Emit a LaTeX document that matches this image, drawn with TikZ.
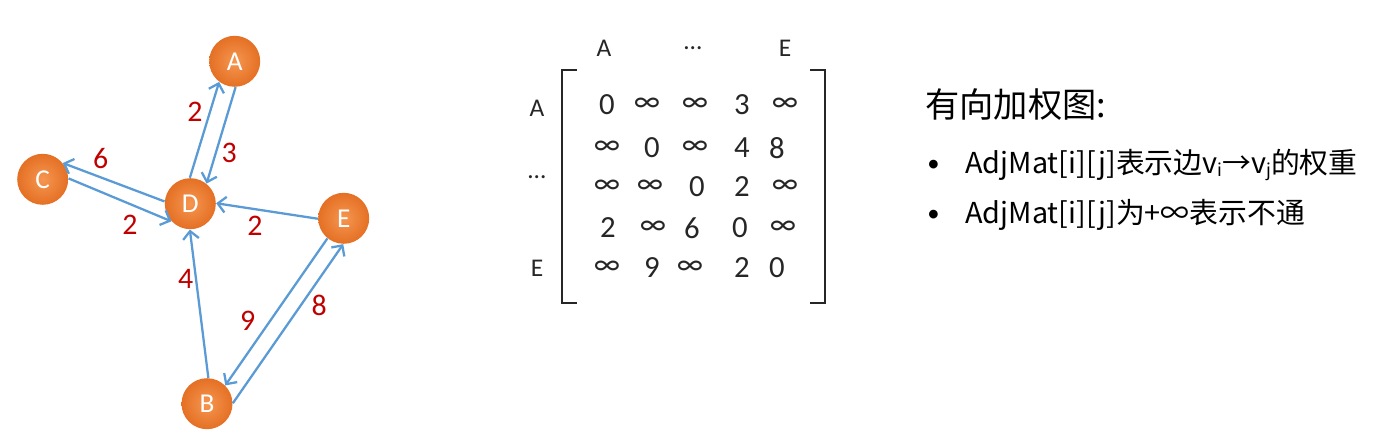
\documentclass[tikz,border=0pt]{standalone}
\usepackage{fontspec}
\setmainfont{Carlito}
\newfontfamily\cjk{Noto Sans CJK SC}
\usetikzlibrary{arrows.meta}
\definecolor{edgeblue}{RGB}{91,155,213}
\definecolor{orL}{RGB}{246,150,80}
\definecolor{orD}{RGB}{228,112,36}
\definecolor{wred}{RGB}{192,0,0}
\definecolor{ink}{RGB}{38,38,38}
\begin{document}
\begin{tikzpicture}[x=0.02cm,y=-0.02cm,
  vtx/.style={circle, minimum size=1.02cm, inner sep=0pt, shade, inner color=orL, outer color=orD, text=white, font=\fontsize{15.5}{15.5}\selectfont},
  arc/.style={draw=edgeblue, line width=1.3pt, -{Straight Barb[length=4.5pt,width=9pt]}},
  wt/.style={text=wred, font=\fontsize{17}{17}\selectfont},
  ent/.style={text=ink, font=\fontsize{17.5}{17.5}\selectfont, inner sep=0pt},
  lab/.style={text=ink, font=\fontsize{14.5}{14.5}\selectfont, inner sep=0pt},
  brk/.style={draw=ink, line width=1.2pt},
  tx/.style={anchor=west, inner sep=0pt, text=black}]
\useasboundingbox (0,0) rectangle (1383,438);
% graph
\node[vtx] (A) at (234.7,61.3) {A};
\node[vtx] (C) at (42.7,179.3) {C};
\node[vtx] (D) at (190.3,203.7) {D};
\node[vtx] (E) at (343.7,218.3) {E};
\node[vtx] (B) at (207,403.7) {B};
\draw[arc] (D.91) -- (A.233);
\draw[arc] (A.272) -- (D.51);
\draw[arc] (D.175) -- (C.39);
\draw[arc] (C.2) -- (D.223);
\draw[arc] (E.181) -- (D.1);
\draw[arc] (B.87) -- (D.269);
\draw[arc] (E.231) -- (B.45);
\draw[arc] (B.1) -- (E.269);
\node[wt] (w1) at (195,111.7) {2};
\node[wt] (w2) at (229.3,152.7) {3};
\node[wt] (w3) at (100.7,158.3) {6};
\node[wt] (w4) at (130,225) {2};
\node[wt] (w5) at (255,226) {2};
\node[wt] (w6) at (185.7,279.3) {4};
\node[wt] (w7) at (247.7,321) {9};
\node[wt] (w8) at (319.3,305) {8};
% matrix
\node[lab] (hA) at (604,48) {A};
\node[lab] (hM) at (693,48) {…};
\node[lab] (hE) at (785,48) {E};
\node[lab] (rA) at (537,108) {A};
\node[lab] (rM) at (537,177) {…};
\node[lab] (rE) at (537,268) {E};
\draw[brk] (577,70) -- (562,70) -- (562,303) -- (577,303);
\draw[brk] (810,70) -- (825,70) -- (825,303) -- (810,303);
\node[ent] (m11) at (607,105) {0};
\node[ent] (m12) at (647,105) {∞};
\node[ent] (m13) at (695,105) {∞};
\node[ent] (m14) at (742,105) {3};
\node[ent] (m15) at (785,105) {∞};
\node[ent] (m21) at (607,148) {∞};
\node[ent] (m22) at (652,148) {0};
\node[ent] (m23) at (695,148) {∞};
\node[ent] (m24) at (742,148) {4};
\node[ent] (m25) at (777,148) {8};
\node[ent] (m31) at (607,187) {∞};
\node[ent] (m32) at (650,187) {∞};
\node[ent] (m33) at (697,187) {0};
\node[ent] (m34) at (742,187) {2};
\node[ent] (m35) at (785,187) {∞};
\node[ent] (m41) at (608,228) {2};
\node[ent] (m42) at (653,228) {∞};
\node[ent] (m43) at (692,228) {6};
\node[ent] (m44) at (740,228) {0};
\node[ent] (m45) at (783,228) {∞};
\node[ent] (m51) at (607,268) {∞};
\node[ent] (m52) at (652,268) {9};
\node[ent] (m53) at (690,268) {∞};
\node[ent] (m54) at (742,268) {2};
\node[ent] (m55) at (777,268) {0};
% text
\node[tx, font=\cjk\fontsize{19.5}{19.5}\selectfont] (title) at (925,105) {有向加权图:};
\node[tx, font=\fontsize{14}{14}\selectfont] (b1) at (927,166) {•};
\node[tx, font=\cjk\fontsize{16.4}{16.4}\selectfont] (l1) at (965,165) {AdjMat[i][j]表示边v\raisebox{-0.25ex}{\fontsize{10}{10}\selectfont i}→v\raisebox{-0.25ex}{\fontsize{10}{10}\selectfont j}的权重};
\node[tx, font=\fontsize{14}{14}\selectfont] (b2) at (927,216) {•};
\node[tx, font=\cjk\fontsize{16.4}{16.4}\selectfont] (l2) at (965,215) {AdjMat[i][j]为+∞表示不通};
\end{tikzpicture}
\end{document}
